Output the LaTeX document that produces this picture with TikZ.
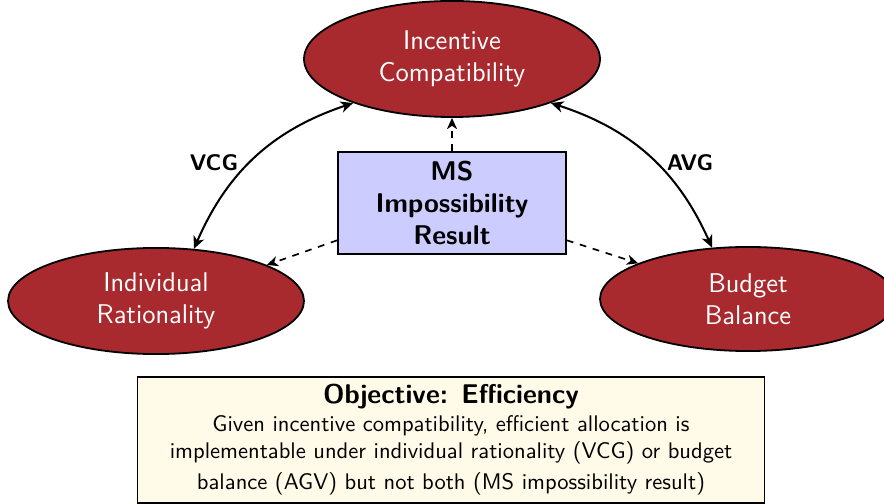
\documentclass[tikz,border=0pt]{standalone}
\usetikzlibrary{shapes.geometric,arrows.meta}
\renewcommand{\familydefault}{\sfdefault}
\definecolor{ellred}{RGB}{168,42,46}
\definecolor{msblue}{RGB}{204,204,255}
\definecolor{objyellow}{RGB}{255,251,232}
\begin{document}
\begin{tikzpicture}[x=0.443pt,y=-0.443pt,
  prop/.style={ellipse,draw=black,line width=0.8pt,fill=ellred,text=white,align=center,inner sep=0pt,
    minimum width=131.1pt,font=\large},
  msbox/.style={rectangle,draw=black,line width=0.8pt,fill=msblue,align=center,inner sep=0pt,
    minimum width=101pt,minimum height=45.2pt,font=\large\bfseries},
  objbox/.style={rectangle,draw=black,line width=0.8pt,fill=objyellow,align=center,inner sep=0pt,
    minimum width=277.8pt,minimum height=55.8pt},
  mech/.style={line width=0.9pt,{Stealth[length=5.5pt,width=5pt,inset=1.6pt]}-{Stealth[length=5.5pt,width=5pt,inset=1.6pt]}},
  imp/.style={line width=0.75pt,dashed,-{Stealth[length=5pt,width=4.5pt,inset=1.5pt]}},
  lbl/.style={font=\bfseries}]
\useasboundingbox (0,0) rectangle (884,504);
\node[prop,minimum height=51.4pt] (IC) at (452,59) {Incentive\\Compatibility};
\node[prop,minimum height=47pt] (IR) at (156,301) {Individual\\Rationality};
\node[prop,minimum height=46.1pt] (BB) at (748,299) {Budget\\Balance};
\node[msbox] (MS) at (452,203) {MS\\Impossibility\\Result};
\node[objbox] (OBJ) at (451,440) {\fontsize{12.2}{12.4}\selectfont{\large\bfseries Objective: Efficiency}\\
  Given incentive compatibility, efficient allocation is\\
  implementable under individual rationality (VCG) or budget\\[2pt]
  balance (AGV) but not both (MS impossibility result)};
\draw[mech] (IC.204) to[bend right=24] (IR.54);
\draw[mech] (IC.336) to[bend left=24] (BB.125);
\node[lbl] (VCG) at (214,163) {VCG};
\node[lbl] (AVG) at (690,163) {AVG};
\draw[imp] (MS.north) -- (IC.south);
\draw[imp] (MS.198) -- (IR.18);
\draw[imp] (MS.342) -- (BB.162);
\end{tikzpicture}
\end{document}
